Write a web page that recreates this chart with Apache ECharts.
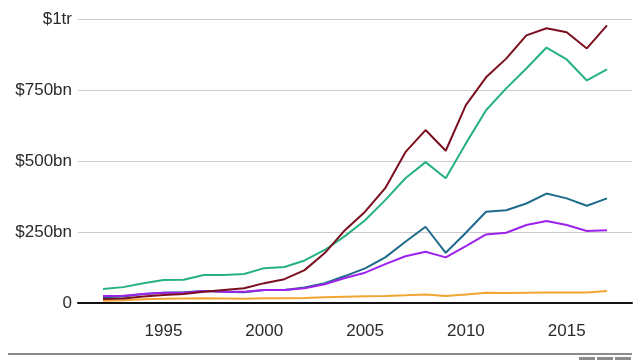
<!DOCTYPE html>
<html>
<head>
<meta charset="utf-8">
<script src="https://cdn.jsdelivr.net/npm/echarts@6/dist/echarts.min.js"></script>
<style>
html,body{margin:0;padding:0;background:#fff;}
#chart{width:640px;height:360px;}
</style>
</head>
<body>
<div id="chart"></div>
<script>
// Values in $bn
var years = [1992,1993,1994,1995,1996,1997,1998,1999,2000,2001,2002,2003,2004,2005,2006,2007,2008,2009,2010,2011,2012,2013,2014,2015,2016,2017];
var maroonValues = [14,16,23,28,32,40,46,52,70,84,116,176,257,322,405,532,610,537,698,796,862,944,969,955,898,979];
var greenValues  = [49,56,70,81,82,99,99,102,123,127,150,187,236,292,363,440,497,440,563,680,757,827,901,859,785,824];
var blueValues   = [20,23,32,36,38,42,40,38,46,46,55,70,95,122,161,216,269,177,248,322,327,351,386,369,343,369];
var purpleValues = [25,26,32,36,36,42,40,40,46,46,52,66,88,107,137,165,181,161,201,242,248,275,289,275,254,257];
var orangeValues = [8,10,13,15,16,17,16,15,17,17,18,20,22,24,25,27,30,25,30,36,35,36,37,37,37,42];
var xTickLabels = [1995,2000,2005,2010,2015];
var yTickLabels = {0:'0',250:'$250bn',500:'$500bn',750:'$750bn',1000:'$1tr'};

function pairs(vals){ return years.map(function(y,i){ return [y, vals[i]]; }); }
function mk(name, vals, color){
  return {name:name, type:'line', data:pairs(vals), symbol:'none', animation:false,
    lineStyle:{width:2, color:color}, itemStyle:{color:color}};
}

var chart = echarts.init(document.getElementById('chart'), null, {renderer:'canvas'});
chart.setOption({
  animation:false,
  grid:{left:78, right:8, top:19.5, bottom:57, containLabel:false},
  xAxis:{
    type:'value', min:1990.76, max:2018.24,
    axisLine:{show:true, lineStyle:{color:'#111', width:2}},
    axisTick:{show:false},
    splitLine:{show:false},
    axisLabel:{customValues:xTickLabels, margin:20, fontSize:17, color:'#2a2a2a', fontFamily:'Liberation Sans, Arial, sans-serif',
      formatter:function(v){return String(v);}}
  },
  yAxis:{
    type:'value', min:0, max:1000, interval:250,
    axisLine:{show:false}, axisTick:{show:false},
    splitLine:{lineStyle:{color:'#cccccc', width:1}},
    axisLabel:{margin:6, fontSize:17, color:'#2a2a2a', fontFamily:'Liberation Sans, Arial, sans-serif',
      formatter:function(v){return yTickLabels[v] !== undefined ? yTickLabels[v] : '';}}
  },
  series:[
    mk('Orange', orangeValues, '#f2a531'),
    mk('Blue', blueValues, '#1f6b8b'),
    mk('Purple', purpleValues, '#9d22ec'),
    mk('Green', greenValues, '#25b182'),
    mk('Maroon', maroonValues, '#7c0f1f')
  ],
  graphic:[
    {type:'rect', shape:{x:8, y:353, width:624, height:2}, style:{fill:'#8c8c8c'}, silent:true},
    {type:'rect', shape:{x:579, y:357, width:16, height:16}, style:{fill:'#8c8c8c'}, silent:true},
    {type:'rect', shape:{x:597, y:357, width:16, height:16}, style:{fill:'#8c8c8c'}, silent:true},
    {type:'rect', shape:{x:615, y:357, width:16, height:16}, style:{fill:'#8c8c8c'}, silent:true}
  ]
});
</script>
</body>
</html>
